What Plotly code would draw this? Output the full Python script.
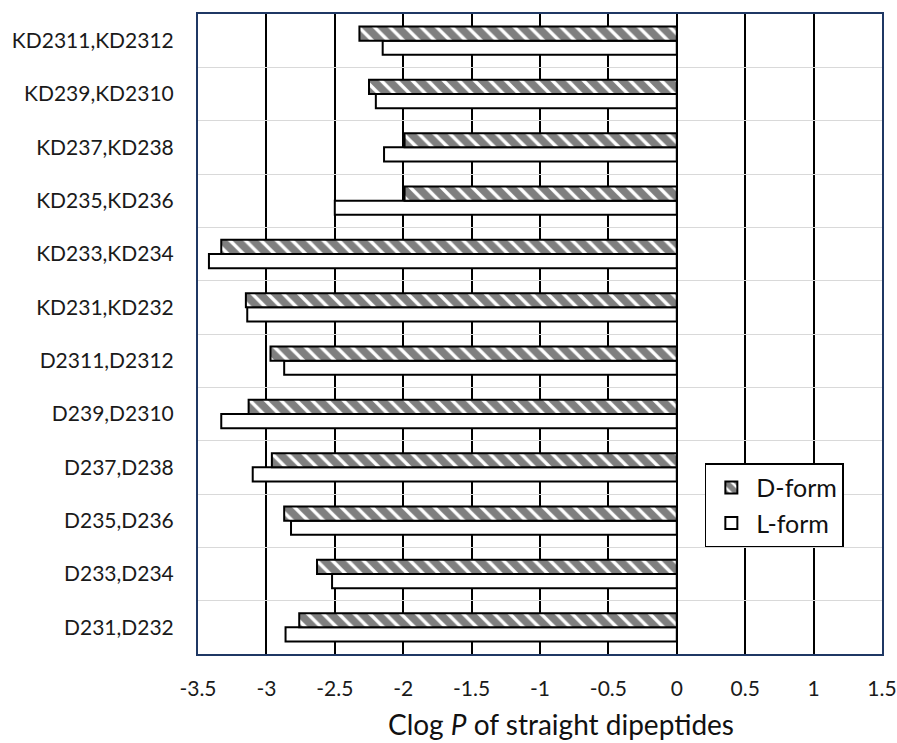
import plotly.graph_objects as go

categories = ["D231,D232", "D233,D234", "D235,D236", "D237,D238", "D239,D2310",
              "D2311,D2312", "KD231,KD232", "KD233,KD234", "KD235,KD236",
              "KD237,KD238", "KD239,KD2310", "KD2311,KD2312"]
d_form = [-2.76, -2.63, -2.87, -2.96, -3.13, -2.97, -3.15, -3.33, -1.99, -1.99, -2.25, -2.32]
l_form = [-2.86, -2.52, -2.82, -3.10, -3.33, -2.87, -3.14, -3.42, -2.50, -2.14, -2.20, -2.15]
x_ticks = [-3.5, -3, -2.5, -2, -1.5, -1, -0.5, 0, 0.5, 1, 1.5]
x_title = "Clog <i>P</i> of straight dipeptides"

FONT = "Lato"
fig = go.Figure()
fig.add_trace(go.Bar(
    y=categories, x=l_form, orientation="h", name="L-form", legendgroup="L",
    marker=dict(color="white", line=dict(color="black", width=2)),
))
fig.add_trace(go.Bar(
    y=categories, x=d_form, orientation="h", name="D-form", legendgroup="D",
    marker=dict(color="white", line=dict(color="black", width=2),
                pattern=dict(shape="\\", fgcolor="black", bgcolor="white",
                             size=11, solidity=0.7, fillmode="overlay")),
))

fig.update_layout(
    width=897, height=743,
    margin=dict(l=198, r=15, t=14, b=89),
    paper_bgcolor="white", plot_bgcolor="white",
    barmode="group", bargap=0.47, bargroupgap=0.0,
    font=dict(family=FONT, size=21, color="#1a1a1a"),
    showlegend=True,
    legend=dict(x=0.741, y=0.298, xanchor="left", yanchor="top",
                bordercolor="black", borderwidth=1.5, bgcolor="white",
                traceorder="reversed", font=dict(size=25, color="#111"),
                itemwidth=40, tracegroupgap=0),
    annotations=[dict(text=x_title, xref="paper", yref="paper",
                      x=0.531, y=-0.109, xanchor="center", yanchor="middle",
                      showarrow=False, font=dict(size=28, family=FONT, color="#111"))],
)
fig.update_xaxes(
    range=[-3.5, 1.5], tickvals=x_ticks,
    ticktext=[f"{v:g}" for v in x_ticks],
    showgrid=True, gridcolor="black", gridwidth=1.5,
    zeroline=True, zerolinecolor="black", zerolinewidth=1.5,
    showline=True, mirror=True, linecolor="#1F3864", linewidth=2,
    ticks="", ticklabelstandoff=15, automargin=False, ticklabeloverflow="allow",
    tickfont=dict(size=21, family=FONT, color="#1a1a1a"),
)
fig.update_yaxes(
    type="category", categoryorder="array", categoryarray=categories,
    tickson="boundaries", ticks="",
    showgrid=True, gridcolor="#d9d9d9", gridwidth=1,
    showline=True, mirror=True, linecolor="#1F3864", linewidth=2,
    ticklabelstandoff=18, automargin=False,
    tickfont=dict(size=21, family=FONT, color="#1a1a1a"),
)

fig.write_html("out.html", config={"displayModeBar": False},
               post_script="document.body.style.margin='0';document.body.style.overflow='hidden';")
